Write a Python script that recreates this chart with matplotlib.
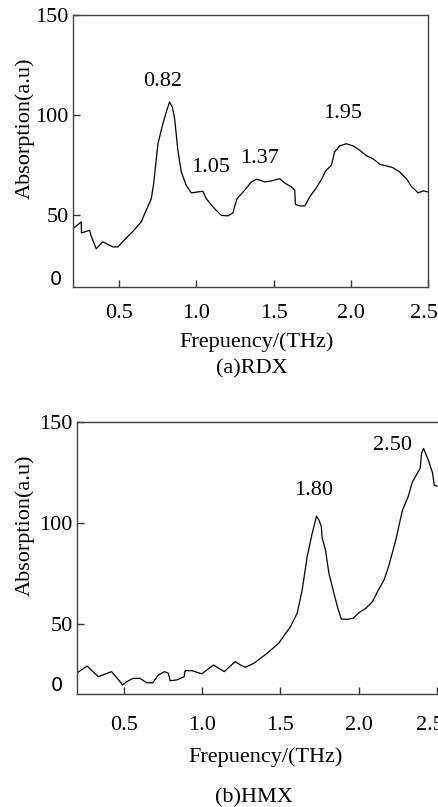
import matplotlib
matplotlib.use('Agg')
import matplotlib.pyplot as plt
from matplotlib.transforms import ScaledTranslation

# RDX spectrum
rdx_freq = [0.200, 0.254, 0.256, 0.308, 0.319, 0.351, 0.394, 0.459, 0.492, 0.535,
            0.589, 0.643, 0.665, 0.708, 0.723, 0.751, 0.783, 0.805, 0.826, 0.844,
            0.859, 0.880, 0.902, 0.934, 0.967, 1.010, 1.042, 1.064, 1.107, 1.161,
            1.204, 1.237, 1.247, 1.263, 1.312, 1.356, 1.388, 1.414, 1.442, 1.485,
            1.539, 1.571, 1.615, 1.637, 1.641, 1.669, 1.702, 1.734, 1.777, 1.809,
            1.837, 1.874, 1.895, 1.928, 1.971, 2.014, 2.058, 2.101, 2.144, 2.187,
            2.230, 2.273, 2.317, 2.360, 2.392, 2.436, 2.468, 2.500]
rdx_abs = [43.3, 46.7, 41.2, 42.5, 39.5, 33.3, 36.7, 34.2, 34.2, 37.8,
           42.0, 46.7, 50.8, 58.3, 65.8, 85.8, 95.8, 101.7, 106.7, 104.2,
           98.3, 82.5, 71.7, 65.0, 61.2, 61.7, 62.0, 58.3, 54.2, 50.0,
           49.7, 51.2, 54.2, 58.3, 62.5, 66.7, 68.0, 67.5, 66.7, 67.2,
           68.3, 66.2, 64.2, 62.5, 55.5, 54.7, 54.7, 59.2, 63.8, 67.8,
           72.2, 75.0, 81.7, 84.7, 85.8, 84.7, 82.5, 79.8, 78.3, 75.5,
           74.7, 73.8, 71.7, 68.3, 64.5, 61.2, 62.2, 61.7]

# HMX spectrum
hmx_freq = [0.198, 0.266, 0.337, 0.422, 0.458, 0.493, 0.518, 0.561, 0.604, 0.646,
            0.685, 0.721, 0.760, 0.785, 0.796, 0.839, 0.886, 0.892, 0.935, 0.999,
            1.031, 1.074, 1.106, 1.142, 1.176, 1.213, 1.245, 1.277, 1.330, 1.416,
            1.490, 1.565, 1.608, 1.640, 1.672, 1.704, 1.732, 1.747, 1.762, 1.768,
            1.789, 1.811, 1.843, 1.868, 1.890, 1.928, 1.967, 2.003, 2.046, 2.089,
            2.121, 2.163, 2.195, 2.238, 2.281, 2.317, 2.345, 2.394, 2.403, 2.416,
            2.446, 2.473, 2.484, 2.501]
hmx_abs = [25.3, 28.9, 23.6, 26.1, 22.8, 19.5, 21.1, 22.8, 22.8, 20.6,
           20.6, 24.4, 26.1, 25.3, 21.6, 22.0, 23.6, 26.6, 26.6, 25.0,
           26.9, 29.4, 27.8, 26.1, 28.6, 31.1, 29.4, 28.3, 30.2, 35.2,
           40.2, 48.4, 55.1, 66.6, 83.2, 94.8, 103.3, 101.4, 98.4, 92.3,
           86.5, 74.9, 65.0, 57.5, 52.2, 52.1, 52.6, 55.4, 57.5, 60.8,
           65.8, 71.6, 79.0, 91.4, 106.3, 112.9, 120.4, 127.0, 134.5, 136.9,
           131.1, 124.8, 118.7, 118.2]

rdx_peaks = ['0.82', '1.05', '1.37', '1.95']
rdx_peak_x = [0.78, 1.09, 1.41, 1.95]
rdx_peak_y = [117, 74, 78.5, 101]
hmx_peaks = ['1.80', '2.50']
hmx_peak_x = [1.71, 2.22]
hmx_peak_y = [116, 138.6]

xticks = [0.5, 1.0, 1.5, 2.0, 2.5]
yticks = [50, 100, 150]

plt.rcParams['font.family'] = 'Liberation Serif'
plt.rcParams['font.size'] = 16

fig = plt.figure(figsize=(4.39, 8.07), dpi=100)
ax1 = fig.add_axes([0.166, 0.644, 0.809, 0.337])
ax2 = fig.add_axes([0.175, 0.140, 0.827, 0.337])

def style(ax, xlim, ylim, xpad, zero_x, last_shift):
    ax.set_xlim(*xlim)
    ax.set_ylim(*ylim)
    ax.set_xticks(xticks)
    ax.set_xticklabels(['%.1f' % t for t in xticks])
    ax.set_yticks(yticks)
    ax.tick_params(axis='both', direction='in', length=5, width=1, color='#333333')
    ax.tick_params(axis='x', pad=xpad)
    ax.tick_params(axis='y', pad=3)
    for s in ax.spines.values():
        s.set_color('#444444')
        s.set_linewidth(1)
    ax.set_xlabel('Frepuency/(THz)')
    ax.set_ylabel('Absorption(a.u)')
    # last tick label sits a little left of its tick, as in the original
    last = ax.get_xticklabels()[-1]
    last.set_transform(last.get_transform() +
                       ScaledTranslation(last_shift / 100, 0, fig.dpi_scale_trans))
    # the zero label sits at the bottom corner in a sans font
    ax.text(zero_x, 0.03, '0', transform=ax.transAxes, ha='right', va='center',
            family='DejaVu Sans', fontsize=14)

# panel (a)
ax1.plot(rdx_freq, rdx_abs, color='black', linewidth=0.9)
style(ax1, (0.2, 2.5), (14, 150), 12, -0.03, -4)
for lab, x, y in zip(rdx_peaks, rdx_peak_x, rdx_peak_y):
    ax1.text(x, y, lab, ha='center', va='center')
ax1.yaxis.set_label_coords(-0.107, 0.585)
ax1.xaxis.set_label_coords(0.518, -0.165)
fig.text(252 / 439, 1 - 369 / 807, '(a)RDX', ha='center', va='center')

# panel (b)
ax2.plot(hmx_freq, hmx_abs, color='black', linewidth=0.9)
style(ax2, (0.2, 2.52), (15, 150), 16, -0.038, -7)
for lab, x, y in zip(hmx_peaks, hmx_peak_x, hmx_peak_y):
    ax2.text(x, y, lab, ha='center', va='center')
ax2.yaxis.set_label_coords(-0.116, 0.621)
ax2.xaxis.set_label_coords(0.52, -0.197)
fig.text(254 / 439, 1 - 798 / 807, '(b)HMX', ha='center', va='center')

fig.savefig('out.png', dpi=100)
